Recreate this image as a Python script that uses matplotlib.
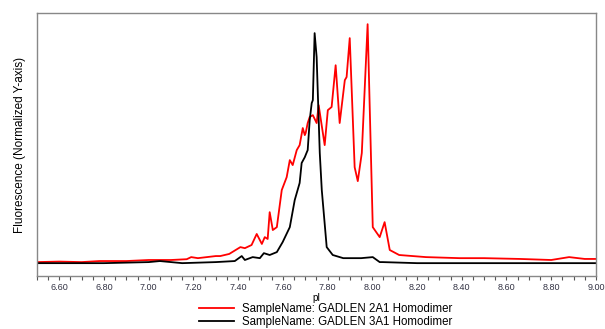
import numpy as np
import matplotlib
matplotlib.use('Agg')
import matplotlib.pyplot as plt
from matplotlib.ticker import MultipleLocator, FormatStrFormatter

plt.rcParams['font.family'] = ['Liberation Sans', 'DejaVu Sans']

# pI profile, GADLEN 2A1 homodimer
pi_2a1 = [6.50, 6.60, 6.70, 6.78, 6.90, 7.00, 7.10, 7.17, 7.19, 7.22, 7.30, 7.32,
          7.36, 7.41, 7.43, 7.46, 7.483, 7.506, 7.519, 7.532, 7.541, 7.555, 7.573,
          7.595, 7.617, 7.631, 7.644, 7.662, 7.675, 7.689, 7.698, 7.702, 7.711,
          7.720, 7.734, 7.751, 7.760, 7.787, 7.801, 7.818, 7.836, 7.854, 7.877,
          7.885, 7.899, 7.921, 7.935, 7.953, 7.979, 7.997, 8.002, 8.033, 8.055,
          8.078, 8.12, 8.24, 8.39, 8.50, 8.66, 8.80, 8.88, 8.95, 9.00]
fl_2a1 = [0.053, 0.055, 0.053, 0.057, 0.057, 0.061, 0.061, 0.064, 0.072, 0.068, 0.076, 0.076,
          0.084, 0.110, 0.106, 0.118, 0.160, 0.122, 0.148, 0.141, 0.243, 0.175, 0.186,
          0.327, 0.376, 0.441, 0.422, 0.479, 0.498, 0.563, 0.536, 0.544, 0.582,
          0.605, 0.612, 0.582, 0.650, 0.498, 0.631, 0.643, 0.802, 0.582, 0.745,
          0.757, 0.905, 0.414, 0.361, 0.468, 0.958, 0.354, 0.186, 0.148, 0.205,
          0.099, 0.080, 0.072, 0.068, 0.068, 0.065, 0.061, 0.072, 0.065, 0.065]

# pI profile, GADLEN 3A1 homodimer
pi_3a1 = [6.50, 6.80, 7.00, 7.05, 7.15, 7.30, 7.385, 7.416, 7.43, 7.465, 7.497,
          7.515, 7.541, 7.573, 7.599, 7.631, 7.653, 7.675, 7.684, 7.698, 7.707,
          7.711, 7.720, 7.729, 7.734, 7.742, 7.751, 7.765, 7.774, 7.796, 7.823,
          7.87, 7.95, 8.002, 8.033, 8.046, 8.20, 9.00]
fl_3a1 = [0.049, 0.049, 0.053, 0.057, 0.049, 0.053, 0.057, 0.076, 0.061, 0.072, 0.068,
          0.087, 0.080, 0.091, 0.129, 0.186, 0.289, 0.354, 0.430, 0.452, 0.471,
          0.479, 0.593, 0.658, 0.669, 0.924, 0.833, 0.468, 0.327, 0.110, 0.080,
          0.068, 0.068, 0.072, 0.053, 0.053, 0.049, 0.049]

labels = ['SampleName: GADLEN 2A1 Homodimer', 'SampleName: GADLEN 3A1 Homodimer']

fig = plt.figure(figsize=(6.05, 3.29), dpi=100)
ax = fig.add_axes([0.061, 0.161, 0.924, 0.799])

ax.plot(pi_2a1, fl_2a1, color='#ff0000', lw=1.3, label=labels[0])
ax.plot(pi_3a1, fl_3a1, color='#000000', lw=1.3, label=labels[1])

ax.set_xlim(6.5, 9.0)
ax.set_ylim(0, 1.0)
ax.set_yticks([])
ax.xaxis.set_minor_locator(MultipleLocator(0.05))
ax.xaxis.set_major_formatter(FormatStrFormatter('%.2f'))
ax.set_xticks(np.arange(6.6, 9.01, 0.2))
ax.tick_params(axis='x', which='both', direction='out', length=3, width=0.8,
               color='#555555', labelsize=6.5, labelcolor='#333344', pad=2)
for s in ax.spines.values():
    s.set_color('#888888')
    s.set_linewidth(1.0)

ax.set_xlabel('pI', fontsize=7, labelpad=1)
ax.set_ylabel('Fluorescence (Normalized Y-axis)', fontsize=8.5, labelpad=8)

fig.legend(loc='upper left', bbox_to_anchor=(0.329, 0.078), frameon=False,
           fontsize=8.3, handlelength=3.0, handletextpad=0.7, labelspacing=0.05,
           borderpad=0, borderaxespad=0)

fig.savefig('out.png', dpi=100)
